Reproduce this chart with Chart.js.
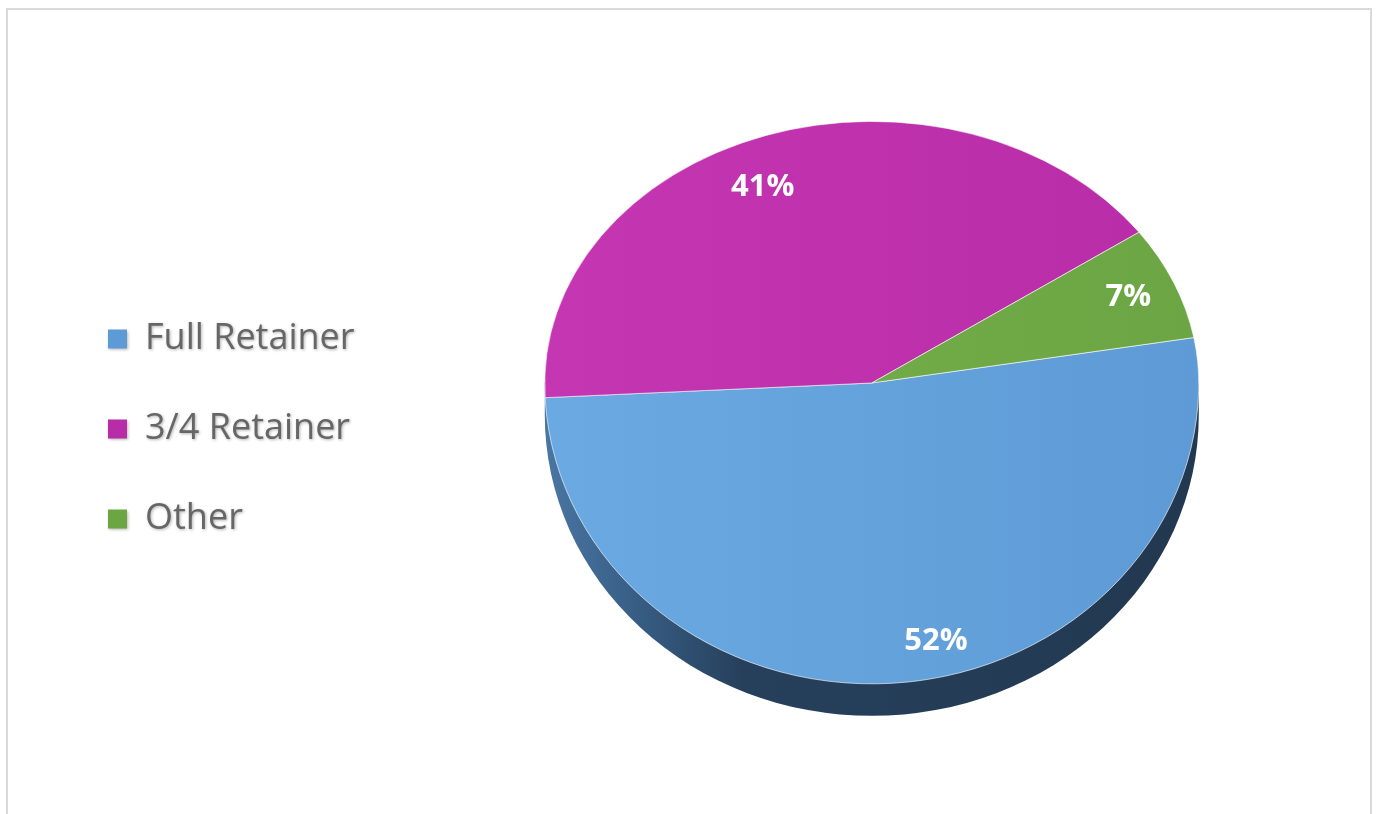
<!DOCTYPE html>
<html>
<head>
<meta charset="utf-8">
<script src="https://cdn.jsdelivr.net/npm/chart.js@4/dist/chart.umd.min.js"></script>
<style>
  html, body { margin: 0; padding: 0; background: #ffffff; }
  #wrap { position: relative; width: 1379px; height: 814px; overflow: hidden; }
  #frame { position: absolute; left: 6px; top: 8px; width: 1362px; height: 830px;
           border: 2px solid #d9d9d9; box-sizing: content-box; pointer-events: none; }
  canvas { position: absolute; left: 0; top: 0; }
</style>
</head>
<body>
<div id="wrap">
  <canvas id="chart" width="1379" height="814"></canvas>
  <div id="frame"></div>
</div>
<script>
// Retainer split
const categories = ['Full Retainer', '3/4 Retainer', 'Other'];
const shares = [52, 41, 7];
const sliceColors = [
  ['#6aa9e2', '#5e9bd6'],
  ['#c536b2', '#b82ca7'],
  ['#74b04c', '#6ca644']
];

// Tilted-disc look: top half and bottom half squashed by different amounts,
// plus a dark rim drawn underneath.
const TILT_TOP = 0.80;
const TILT_BOTTOM = 0.92;
const RIM_DEPTH = 32;
const PIE_RADIUS = 327;

function sliceFill(ctx) {
  const chart = ctx.chart;
  const area = chart.chartArea;
  if (!area || !isFinite(area.left) || !isFinite(area.right)) return sliceColors[ctx.dataIndex][0];
  const cx = (area.left + area.right) / 2;
  const g = chart.ctx.createLinearGradient(cx - PIE_RADIUS, 0, cx + PIE_RADIUS, 0);
  g.addColorStop(0, sliceColors[ctx.dataIndex][0]);
  g.addColorStop(1, sliceColors[ctx.dataIndex][1]);
  return g;
}

const tiltedPie = {
  id: 'tiltedPie',
  beforeDatasetDraw(chart, args) {
    const meta = args.meta;
    const ctx = chart.ctx;
    const a0 = meta.data[0];
    const cx = a0.x, cy = a0.y, r = a0.outerRadius;

    // rim under the disc
    ctx.save();
    ctx.beginPath();
    ctx.moveTo(cx + r, cy);
    ctx.ellipse(cx, cy + RIM_DEPTH, r, r * TILT_BOTTOM, 0, 0, Math.PI);
    ctx.lineTo(cx - r, cy);
    ctx.closePath();
    const rim = ctx.createLinearGradient(cx - r, 0, cx + r, 0);
    rim.addColorStop(0, '#4a76a3');
    rim.addColorStop(0.12, '#3a6189');
    rim.addColorStop(0.3, '#26405c');
    rim.addColorStop(1, '#223850');
    ctx.fillStyle = rim;
    ctx.fill();
    ctx.restore();

    // top face, upper half
    ctx.save();
    ctx.beginPath();
    ctx.rect(0, 0, chart.width, cy + 0.5);
    ctx.clip();
    ctx.translate(cx, cy);
    ctx.scale(1, TILT_TOP);
    ctx.translate(-cx, -cy);
    meta.controller.draw();
    ctx.restore();

    // top face, lower half
    ctx.save();
    ctx.beginPath();
    ctx.rect(0, cy - 0.5, chart.width, chart.height - cy + 0.5);
    ctx.clip();
    ctx.translate(cx, cy);
    ctx.scale(1, TILT_BOTTOM);
    ctx.translate(-cx, -cy);
    meta.controller.draw();
    ctx.restore();
    return false;
  }
};

const sliceLabels = {
  id: 'sliceLabels',
  afterDatasetsDraw(chart, args, opts) {
    const ctx = chart.ctx;
    const meta = chart.getDatasetMeta(0);
    const values = chart.data.datasets[0].data;
    ctx.save();
    ctx.font = 'bold 31px "Open Sans", sans-serif';
    ctx.fillStyle = '#ffffff';
    ctx.textAlign = 'center';
    ctx.textBaseline = 'middle';
    meta.data.forEach((arc, i) => {
      const mid = (arc.startAngle + arc.endAngle) / 2 + (opts.angleShift[i] || 0) * Math.PI / 180;
      const rr = arc.outerRadius * opts.radiusFactor[i];
      const dx = Math.cos(mid) * rr;
      const dy = Math.sin(mid) * rr * (Math.sin(mid) < 0 ? TILT_TOP : TILT_BOTTOM);
      ctx.fillText(values[i] + '%', arc.x + dx, arc.y + dy);
    });
    ctx.restore();
  }
};

// soft shadow on the legend text
const legendShadow = {
  id: 'legendShadow',
  beforeDraw(chart) {
    const ctx = chart.ctx;
    ctx.save();
    ctx.shadowColor = 'rgba(0,0,0,0.3)';
    ctx.shadowBlur = 3;
    ctx.shadowOffsetX = 1;
    ctx.shadowOffsetY = 1;
  },
  beforeDatasetsDraw(chart) {
    chart.ctx.restore();
  }
};

new Chart(document.getElementById('chart'), {
  type: 'pie',
  data: {
    labels: categories,
    datasets: [{
      data: shares,
      backgroundColor: sliceFill,
      borderColor: 'rgba(255,255,255,0.65)',
      borderWidth: 1
    }]
  },
  options: {
    responsive: false,
    animation: false,
    events: [],
    rotation: 80,
    radius: PIE_RADIUS,
    layout: { padding: { left: 54, right: -3, top: 0, bottom: 48 } },
    plugins: {
      tooltip: { enabled: false },
      legend: {
        position: 'left',
        title: { display: true, text: ' ', font: { size: 10 }, padding: { top: 40, bottom: 40 } },
        labels: {
          boxWidth: 19,
          boxHeight: 19,
          padding: 54,
          color: '#333333',
          font: { family: '"Open Sans", sans-serif', size: 36 },
          generateLabels(chart) {
            return chart.data.labels.map((t, i) => ({
              text: t,
              fillStyle: sliceColors[i][1],
              strokeStyle: sliceColors[i][1],
              lineWidth: 0,
              hidden: false,
              index: i
            }));
          }
        }
      },
      sliceLabels: {
        angleShift: [-6.5, -5, 0],
        radiusFactor: [0.88, 0.82, 0.85]
      }
    }
  },
  plugins: [legendShadow, tiltedPie, sliceLabels]
});
</script>
</body>
</html>
